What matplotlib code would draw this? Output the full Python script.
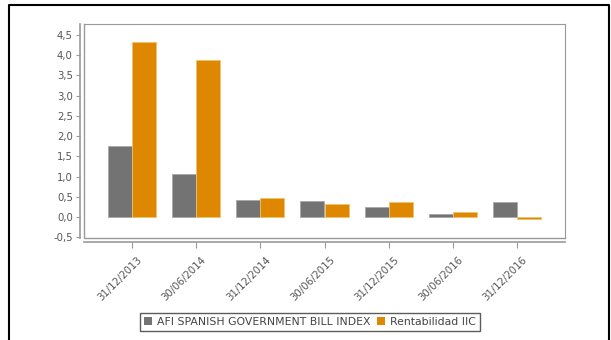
import numpy as np
import matplotlib.pyplot as plt
import matplotlib.transforms as mtransforms
from matplotlib.lines import Line2D
from matplotlib.patches import Patch

# data
fechas = ['31/12/2013', '30/06/2014', '31/12/2014', '30/06/2015',
          '31/12/2015', '30/06/2016', '31/12/2016']
indice = [1.76, 1.06, 0.41, 0.39, 0.24, 0.08, 0.38]
rentabilidad = [4.33, 3.87, 0.47, 0.31, 0.38, 0.12, -0.06]
nombres = ['AFI SPANISH GOVERNMENT BILL INDEX', 'Rentabilidad IIC']

gris = '#737373'
naranja = '#dd8800'
texto = '#555555'

W, H = 611, 340
fig = plt.figure(figsize=(W / 100, H / 100), dpi=100)

# outer black frame (bottom edge is cut off in the original)
x0, x1, y1 = 9 / W, 609 / W, 1 - 5 / H
fig.add_artist(Line2D([x0, x0, x1, x1], [-0.01, y1, y1, -0.01],
                      transform=fig.transFigure, color='black', lw=1.5))

ax = fig.add_axes([84 / W, 1 - 238 / H, (565 - 84) / W, (238 - 24) / H])

# box around plot area + separate axis lines offset outward
# (set_position resets the ticks, so do this first)
for s in ['top', 'right']:
    ax.spines[s].set_color('#999999')
for s in ['left', 'bottom']:
    ax.spines[s].set_position(('outward', 3))
    ax.spines[s].set_color('#999999')
    ax.spines[s].set_linewidth(1.2)
ax.add_line(Line2D([0, 0, 1], [1, 0, 0], transform=ax.transAxes,
                   color='#999999', lw=1, clip_on=False))

x = np.arange(len(fechas))
w = 0.375
ax.bar(x - w / 2, indice, w, color=gris, edgecolor='#a8a8a8', linewidth=0.6)
ax.bar(x + w / 2, rentabilidad, w, color=naranja, edgecolor='#f0c070', linewidth=0.6)

ax.set_xlim(-0.75, len(fechas) - 0.25)
ax.set_ylim(-0.52, 4.77)

yt = np.arange(-0.5, 4.51, 0.5)
ax.set_yticks(yt)
ax.set_yticklabels([f'{v:.1f}'.replace('.', ',') for v in yt])
ax.set_xticks(x)
ax.set_xticklabels(fechas)

ax.tick_params(axis='both', colors='#999999', labelcolor=texto, labelsize=7.3, width=0.8)
ax.tick_params(axis='y', length=3, pad=2)
ax.tick_params(axis='x', length=4, pad=3)
plt.setp(ax.get_xticklabels(), rotation=45, ha='right', rotation_mode='anchor')
shift = mtransforms.ScaledTranslation(0.05, -0.03, fig.dpi_scale_trans)
for lab in ax.get_xticklabels():
    lab.set_transform(lab.get_transform() + shift)

handles = [Patch(facecolor=gris, edgecolor='none'),
           Patch(facecolor=naranja, edgecolor='none')]
leg = fig.legend(handles, nombres, loc='center', bbox_to_anchor=(310 / W, 1 - 322 / H),
                 ncol=2, fontsize=7.8, frameon=True, fancybox=False,
                 handlelength=0.7, handleheight=0.7, handletextpad=0.5,
                 columnspacing=0.6, borderpad=0.35, borderaxespad=0)
leg.get_frame().set_edgecolor('#333333')
leg.get_frame().set_linewidth(1)
for t in leg.get_texts():
    t.set_color('#444444')

fig.savefig('out.png', dpi=100)
